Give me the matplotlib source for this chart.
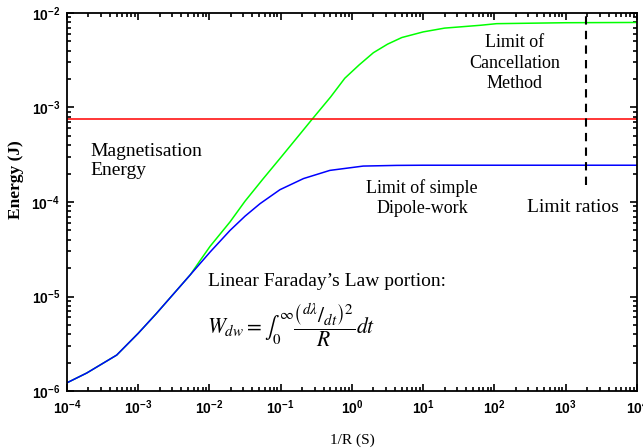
import matplotlib
matplotlib.use("Agg")
import matplotlib.pyplot as plt
from matplotlib.ticker import LogLocator, LogFormatterSciNotation, NullFormatter

# ---- data ----
green_x = [1e-4, 1.9e-4, 5.0e-4, 1.0e-3, 1.8e-3, 3.5e-3, 5.4e-3, 7.4e-3, 1.02e-2, 1.95e-2,
           3.16e-2, 5.6e-2, 1.0e-1, 1.78e-1, 2.72e-1, 5.01e-1, 7.94e-1, 1.26, 2.0, 3.16,
           5.01, 10, 20, 63, 107, 1000, 1e4]
green_y = [1.22e-6, 1.55e-6, 2.4e-6, 4.07e-6, 6.6e-6, 1.17e-5, 1.7e-5, 2.4e-5, 3.39e-5,
           6.17e-5, 1.02e-4, 1.74e-4, 2.95e-4, 5.01e-4, 7.41e-4, 1.29e-3, 2.04e-3, 2.82e-3,
           3.8e-3, 4.68e-3, 5.5e-3, 6.31e-3, 6.92e-3, 7.41e-3, 7.71e-3, 7.89e-3, 7.94e-3]
blue_x = [1e-4, 1.9e-4, 5.0e-4, 1.0e-3, 1.8e-3, 3.5e-3, 5.4e-3, 1.02e-2, 1.95e-2,
          3.16e-2, 5.13e-2, 9.77e-2, 2.09e-1, 4.9e-1, 1.44, 4.24, 10, 1e4]
blue_y = [1.22e-6, 1.55e-6, 2.4e-6, 4.07e-6, 6.6e-6, 1.17e-5, 1.7e-5, 2.95e-5,
          5.01e-5, 7.08e-5, 9.6e-5, 1.35e-4, 1.77e-4, 2.16e-4, 2.4e-4, 2.44e-4, 2.45e-4,
          2.45e-4]
red_level = 7.5e-4
limit_x = 1900
limit_y = [1.5e-4, 1e-2]
x_range = [1e-4, 1e4]
y_range = [1e-6, 1e-2]

fig = plt.figure(figsize=(6.43, 4.48), dpi=100)
ax = fig.add_axes([0.104, 0.1272, 0.8867, 0.8438])

ax.plot(green_x, green_y, color="#00ff00", lw=1.1)
ax.plot(blue_x, blue_y, color="#0000ff", lw=1.1)
ax.plot(x_range, [red_level, red_level], color="#ff0000", lw=1.1)
ax.plot([limit_x, limit_x], limit_y, color="black", lw=1.5, ls=(0, (4, 3)))

ax.set_xscale("log")
ax.set_yscale("log")
ax.set_xlim(x_range)
ax.set_ylim(y_range)

for axis in (ax.xaxis, ax.yaxis):
    axis.set_major_locator(LogLocator(base=10, numticks=20))
    axis.set_minor_locator(LogLocator(base=10, subs=range(2, 10), numticks=100))
    axis.set_minor_formatter(NullFormatter())
    axis.set_major_formatter(LogFormatterSciNotation())

ax.tick_params(which="both", direction="in", top=True, right=True, width=1.2)
ax.tick_params(which="major", length=5, pad=5)
ax.tick_params(which="minor", length=3)
for lab in ax.get_xticklabels() + ax.get_yticklabels():
    lab.set_fontfamily("Liberation Sans")
    lab.set_fontweight("bold")
    lab.set_fontsize(10)
for sp in ax.spines.values():
    sp.set_linewidth(1.3)

serif = "Liberation Serif"
ax.set_xlabel("1/R (S)", fontfamily=serif, fontsize=11, labelpad=12)


def t(px, py, s, **kw):
    return fig.text(px / 643, 1 - py / 448, s, fontfamily=serif, **kw)


t(16, 180, "Energy (J)", fontsize=12.5, fontweight="bold", rotation=90,
  ha="center", va="center")
t(90, 161, "Magnetisation\nEnergy", fontsize=14, ha="left", va="center", linespacing=1.15)
t(515, 63, "Limit of\nCancellation\nMethod", fontsize=13, ha="center", va="center", linespacing=1.3)
t(422, 198, "Limit of simple\nDipole-work", fontsize=13, ha="center", va="center", linespacing=1.25)
t(573, 207, "Limit ratios", fontsize=14, ha="center", va="center")
t(208, 281, "Linear Faraday\u2019s Law portion:", fontsize=14, ha="left", va="center")
t(207, 325, r"$W_{dw}=\int_0^{\infty}\dfrac{\left({}^{d\lambda}/_{dt}\right)^2}{R}dt$",
  fontsize=15.5, ha="left", va="center", math_fontfamily="stix")

fig.savefig("out.png", dpi=100)
